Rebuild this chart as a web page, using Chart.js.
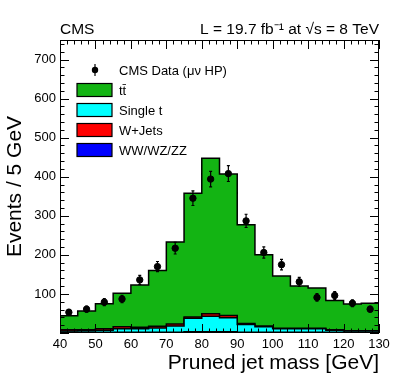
<!DOCTYPE html>
<html>
<head>
<meta charset="utf-8">
<script src="https://cdn.jsdelivr.net/npm/chart.js@4.4.1/dist/chart.umd.min.js"></script>
<style>
  html, body { margin: 0; padding: 0; background: #fff; }
  #wrap { width: 399px; height: 383px; }
</style>
</head>
<body>
<div id="wrap"><canvas id="massChart" width="399" height="383"></canvas></div>
<script>
// pruned jet mass bins (low edges, GeV)
var binLow = [40, 45, 50, 55, 60, 65, 70, 75, 80, 85, 90, 95, 100, 105, 110, 115, 120, 125];
var binWidth = 5;

// observed events
var dataCounts = [53, 61, 79, 87, 136, 170, 217, 345, 394, 408, 287, 206, 175, 131, 91, 96, 76, 61];

// stacked simulation
var ttbar     = [36, 48, 64, 86, 108, 143, 210, 317, 398, 362, 253, 182, 134, 108, 103, 75, 68, 70];
var singleTop = [3, 4, 5, 9, 9, 11, 16, 35, 40, 36, 20, 14, 9, 9, 9, 5, 3, 3];
var wJets     = [3, 2, 4, 5, 4, 4, 5, 3, 6, 6, 2, 2, 1, 1, 1, 1, 1, 1];
var diboson   = [2, 2, 2, 2, 2, 2, 2, 3, 3, 3, 2, 2, 2, 2, 2, 2, 2, 2];

var xTicks = [40, 50, 60, 70, 80, 90, 100, 110, 120, 130];
var yTicks = [100, 200, 300, 400, 500, 600, 700];

var FONT = "'Liberation Sans', Arial, sans-serif";

// histogram as step line: one point per low edge plus the last upper edge
function histPoints(vals) {
    var pts = binLow.map(function(x, i) { return {x: x, y: vals[i]} })
    pts.push({x: binLow[binLow.length - 1] + binWidth, y: vals[vals.length - 1]})
    return pts
}

function histSet(label, vals, color, fill) {
    return {
        label: label,
        data: histPoints(vals),
        stack: 'mc',
        stepped: 'before',
        borderColor: '#000',
        borderWidth: 1.5,
        backgroundColor: color,
        fill: fill,
        pointRadius: 0,
        tension: 0
    }
}

var dataSet = {
    label: 'CMS Data (\u03bc\u03bd HP)',
    data: binLow.map(function(x, i) { return {x: x + binWidth / 2, y: dataCounts[i]} }),
    stack: 'data',
    showLine: false,
    pointRadius: 3.2,
    pointBackgroundColor: '#000',
    pointBorderColor: '#000',
    fill: false
}

var datasets = [
    dataSet,
    histSet('WW/WZ/ZZ', diboson, '#0000ff', 'origin'),
    histSet('Single t', singleTop, '#00ffff', '-1'),
    histSet('W+Jets', wJets, '#ff0000', '-1'),
    histSet('t\u0074\u0304', ttbar, '#13b413', '-1')
]

// frame + inward ROOT-style ticks on all four sides
var framePlugin = {
    id: 'frame',
    afterDatasetsDraw: function(chart) {
        var ctx = chart.ctx, a = chart.chartArea, x = chart.scales.x, y = chart.scales.y
        ctx.save()
        ctx.strokeStyle = '#000'
        ctx.lineWidth = 1
        ctx.beginPath()
        for (var v = 40; v <= 130; v += 2) {
            var px = Math.round(x.getPixelForValue(v)) + 0.5
            var len = v % 10 === 0 ? 9 : 4.5
            ctx.moveTo(px, a.bottom); ctx.lineTo(px, a.bottom - len)
            ctx.moveTo(px, a.top); ctx.lineTo(px, a.top + len)
        }
        for (var w = 0; w <= 750; w += 20) {
            var py = Math.round(y.getPixelForValue(w)) + 0.5
            var l2 = w % 100 === 0 ? 9 : 4.5
            ctx.moveTo(a.left, py); ctx.lineTo(a.left + l2, py)
            ctx.moveTo(a.right, py); ctx.lineTo(a.right - l2, py)
        }
        ctx.stroke()
        ctx.strokeRect(Math.round(a.left) + 0.5, Math.round(a.top) + 0.5,
                       Math.round(a.right - a.left) - 1, Math.round(a.bottom - a.top) - 1)

        // poisson error bars on the data
        ctx.lineWidth = 1.2
        ctx.beginPath()
        dataCounts.forEach(function(n, i) {
            var cx = x.getPixelForValue(binLow[i] + binWidth / 2)
            var e = Math.sqrt(n)
            var y1 = y.getPixelForValue(n - e), y2 = y.getPixelForValue(n + e)
            ctx.moveTo(cx, y1); ctx.lineTo(cx, y2)
            ctx.moveTo(cx - 1.5, y1); ctx.lineTo(cx + 1.5, y1)
            ctx.moveTo(cx - 1.5, y2); ctx.lineTo(cx + 1.5, y2)
        })
        ctx.stroke()
        ctx.restore()
    }
}

// legend inside the frame, top-left
var legendPlugin = {
    id: 'innerLegend',
    afterDraw: function(chart) {
        var ctx = chart.ctx, ds = chart.data.datasets
        var order = [0, 4, 2, 3, 1]
        ctx.save()
        ctx.font = '13px ' + FONT
        ctx.textBaseline = 'middle'
        ctx.fillStyle = '#000'
        order.forEach(function(idx, row) {
            var cy = 70 + row * 20
            var d = ds[idx]
            if (idx === 0) {
                ctx.strokeStyle = '#000'
                ctx.lineWidth = 1.2
                ctx.beginPath(); ctx.moveTo(95, cy - 6); ctx.lineTo(95, cy + 6); ctx.stroke()
                ctx.beginPath(); ctx.arc(95, cy, 3.2, 0, Math.PI * 2); ctx.fill()
            } else {
                ctx.fillStyle = d.backgroundColor
                ctx.fillRect(77, cy - 6.5, 35, 13)
                ctx.strokeStyle = '#000'
                ctx.lineWidth = 1.2
                ctx.strokeRect(77, cy - 6.5, 35, 13)
            }
            ctx.fillStyle = '#000'
            ctx.fillText(d.label, 119, cy + 1)
        })
        // header
        ctx.font = '15.5px ' + FONT
        ctx.textBaseline = 'alphabetic'
        ctx.textAlign = 'left'
        ctx.fillText('CMS', 60, 34)
        ctx.textAlign = 'right'
        ctx.fillText('L = 19.7 fb\u207b\u00b9 at \u221as = 8 TeV', 379, 34)
        ctx.restore()
    }
}

new Chart(document.getElementById('massChart').getContext('2d'), {
    type: 'line',
    data: { datasets: datasets },
    options: {
        responsive: false,
        animation: false,
        layout: { padding: { top: 40, right: 20, left: 0, bottom: 0 } },
        plugins: {
            legend: { display: false },
            tooltip: { enabled: false }
        },
        scales: {
            x: {
                type: 'linear',
                min: 40,
                max: 130,
                grid: { display: false, drawTicks: false },
                border: { display: false },
                afterFit: function(s) { s.height = 50 },
                afterBuildTicks: function(s) { s.ticks = xTicks.map(function(v) { return {value: v} }) },
                ticks: { color: '#000', padding: 4, font: { size: 13, family: FONT } },
                title: {
                    display: true,
                    text: 'Pruned jet mass [GeV]',
                    align: 'end',
                    color: '#000',
                    font: { size: 21, family: FONT },
                    padding: { top: 0, bottom: 7 }
                }
            },
            y: {
                stacked: true,
                min: 0,
                max: 750,
                grid: { display: false, drawTicks: false },
                border: { display: false },
                afterFit: function(s) { s.width = 60 },
                afterBuildTicks: function(s) { s.ticks = yTicks.map(function(v) { return {value: v} }) },
                ticks: { color: '#000', padding: 4, font: { size: 13, family: FONT } },
                title: {
                    display: true,
                    text: 'Events / 5 GeV',
                    color: '#000',
                    font: { size: 21, family: FONT },
                    padding: { top: 3, bottom: 0 }
                }
            }
        }
    },
    plugins: [framePlugin, legendPlugin]
})
</script>
</body>
</html>
